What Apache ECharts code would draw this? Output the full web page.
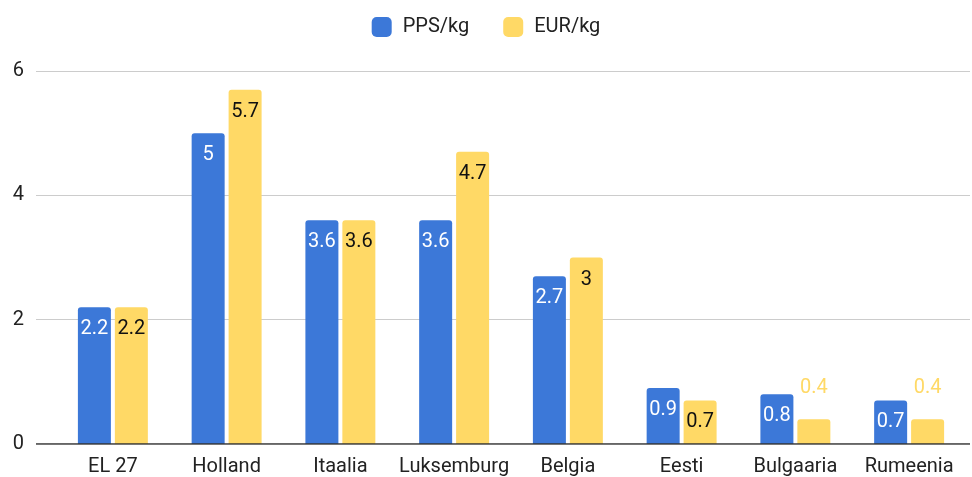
<!DOCTYPE html>
<html>
<head>
<meta charset="utf-8">
<script src="https://cdn.jsdelivr.net/npm/echarts@6/dist/echarts.min.js"></script>
<style>
html, body { margin: 0; padding: 0; background: #fff; }
#chart1 { width: 972px; height: 477px; }
</style>
</head>
<body>
<div id="chart1"></div>
<script>
var categories = ['EL 27', 'Holland', 'Itaalia', 'Luksemburg', 'Belgia', 'Eesti', 'Bulgaaria', 'Rumeenia'];
var ppsValues = [2.2, 5, 3.6, 3.6, 2.7, 0.9, 0.8, 0.7];
var eurValues = [2.2, 5.7, 3.6, 4.7, 3, 0.7, 0.4, 0.4];
var seriesNames = ['PPS/kg', 'EUR/kg'];
var yTicks = [0, 2, 4, 6];

var BLUE = '#3c78d8', YELLOW = '#ffd966';
var FONT = 'Roboto, Arial, sans-serif';

// small bars get the label above, in the bar colour
function toData(values, color, insideColor) {
    return values.map(function (v) {
        var small = v < 0.6;
        return {
            value: v,
            label: {
                position: small ? 'top' : 'insideTop',
                distance: small ? 21 : 12,
                color: small ? color : insideColor
            }
        };
    });
}

var chart = echarts.init(document.getElementById('chart1'));
chart.setOption({
    animation: false,
    textStyle: { fontFamily: FONT },
    legend: {
        top: 12,
        left: 'center',
        itemWidth: 20,
        itemHeight: 20,
        itemGap: 34,
        textStyle: { fontSize: 20, color: '#222', fontFamily: FONT, padding: [0, 0, 0, 6] },
        data: seriesNames.map(function (n) { return { name: n, icon: 'roundRect' }; })
    },
    grid: [
        // gridlines only, wider than the bar area
        { left: 36, right: 2, top: 71, bottom: 33 },
        { left: 56, right: 6, top: 71, bottom: 33 }
    ],
    xAxis: [
        { gridIndex: 0, type: 'value', show: false, min: 0, max: 1 },
        {
            gridIndex: 1,
            type: 'category',
            data: categories,
            axisLine: { show: false },
            axisTick: { show: false },
            axisLabel: { fontSize: 20, color: '#222', margin: 13, interval: 0 }
        }
    ],
    yAxis: [
        {
            gridIndex: 0,
            type: 'value',
            min: yTicks[0],
            max: yTicks[yTicks.length - 1],
            interval: 2,
            axisLine: { show: false },
            axisTick: { show: false },
            axisLabel: { fontSize: 20, color: '#222', margin: 12 },
            splitLine: { lineStyle: { color: '#cccccc', width: 1 } }
        },
        {
            gridIndex: 1,
            type: 'value',
            min: yTicks[0],
            max: yTicks[yTicks.length - 1],
            interval: 2,
            show: false
        }
    ],
    series: [
        {
            // dark baseline across the full width
            type: 'line',
            xAxisIndex: 0,
            yAxisIndex: 0,
            data: [[0, 0], [1, 0]],
            symbol: 'none',
            silent: true,
            lineStyle: { color: '#333', width: 1.5 },
            z: 5
        },
        {
            name: seriesNames[0],
            type: 'bar',
            xAxisIndex: 1,
            yAxisIndex: 1,
            barWidth: 33,
            barGap: '12%',
            itemStyle: { color: BLUE, borderRadius: [3, 3, 0, 0] },
            label: { show: true, fontSize: 20, fontFamily: FONT },
            data: toData(ppsValues, BLUE, '#ffffff')
        },
        {
            name: seriesNames[1],
            type: 'bar',
            xAxisIndex: 1,
            yAxisIndex: 1,
            barWidth: 33,
            barGap: '12%',
            itemStyle: { color: YELLOW, borderRadius: [3, 3, 0, 0] },
            label: { show: true, fontSize: 20, fontFamily: FONT },
            data: toData(eurValues, YELLOW, '#111111')
        }
    ]
});
</script>
</body>
</html>
